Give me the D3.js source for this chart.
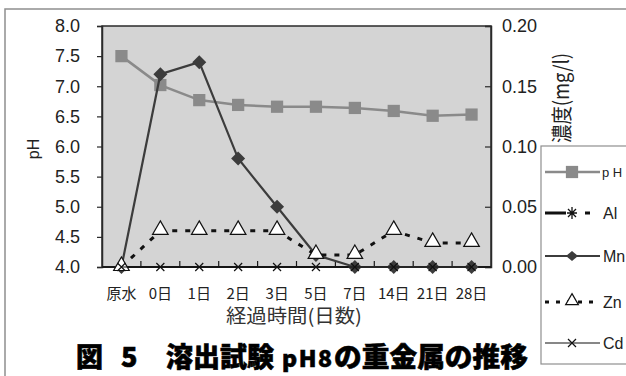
<!DOCTYPE html>
<html>
<head>
<meta charset="utf-8">
<script src="https://cdn.jsdelivr.net/npm/d3@7/dist/d3.min.js"></script>
<style>
  html, body { margin: 0; padding: 0; background: #fff; }
  svg { display: block; }
  .jp { font-family: "Noto Sans CJK JP", sans-serif; }
</style>
</head>
<body>
<svg id="chart" width="626" height="376"></svg>
<script>
// Elapsed-time categories
const categories = ["原水", "0日", "1日", "2日", "3日", "5日", "7日", "14日", "21日", "28日"];
// pH (left axis)
const phValues = [7.5, 7.02, 6.77, 6.69, 6.66, 6.66, 6.64, 6.59, 6.51, 6.53];
// Metal concentrations, mg/l (right axis)
const alValues = [null, null, null, null, null, null, null, null, null, null];
const mnValues = [0, 0.16, 0.17, 0.09, 0.05, 0.01, 0, 0, 0, 0];
const znValues = [0, 0.03, 0.03, 0.03, 0.03, 0.01, 0.01, 0.03, 0.02, 0.02];
const cdValues = [0, 0, 0, 0, 0, 0, 0, 0, 0, 0];
// Axis ticks
const phTicks = [4.0, 4.5, 5.0, 5.5, 6.0, 6.5, 7.0, 7.5, 8.0];
const concTicks = [0, 0.05, 0.10, 0.15, 0.20];
const legendLabels = ["p H", "Al", "Mn", "Zn", "Cd"];

const svg = d3.select("#chart");
const L = 102, R = 491, T = 26, B = 267;

const x = d3.scaleBand().domain(categories).range([L, R]);
const yL = d3.scaleLinear().domain([4, 8]).range([B, T]);
const yR = d3.scaleLinear().domain([0, 0.2]).range([B, T]);
const cx = c => x(c) + x.bandwidth() / 2;

// outer frame
svg.append("path").attr("d", "M5,376 L5,9 L626,9")
  .attr("fill", "none").attr("stroke", "#8f8f8f").attr("stroke-width", 1.5);

// plot background
svg.append("rect").attr("x", L).attr("y", T).attr("width", R - L).attr("height", B - T)
  .attr("fill", "#d4d4d4").attr("stroke", "#2a2a2a").attr("stroke-width", 1.5);

// left axis
const gL = svg.append("g").attr("transform", `translate(${L},0)`)
  .call(d3.axisLeft(yL).tickValues(phTicks).tickFormat(d3.format(".1f")).tickSize(5).tickPadding(17));
gL.select(".domain").attr("stroke", "#2a2a2a").attr("stroke-width", 1.5);
gL.selectAll(".tick line").attr("stroke", "#2a2a2a").attr("stroke-width", 1.2);
gL.selectAll(".tick text").attr("font-size", 18).attr("fill", "#222")
  .style("font-family", "'Liberation Sans', Arial, sans-serif");

// right axis
const gR = svg.append("g").attr("transform", `translate(${R},0)`)
  .call(d3.axisRight(yR).tickValues(concTicks).tickFormat(d3.format(".2f")).tickSize(-6).tickPadding(11));
gR.select(".domain").attr("stroke", "#2a2a2a").attr("stroke-width", 1.5);
gR.selectAll(".tick line").attr("stroke", "#2a2a2a").attr("stroke-width", 1.2);
gR.selectAll(".tick text").attr("font-size", 18).attr("fill", "#222")
  .style("font-family", "'Liberation Sans', Arial, sans-serif");

// bottom axis: category boundary ticks pointing into the plot
svg.append("line").attr("x1", L).attr("x2", R).attr("y1", B).attr("y2", B)
  .attr("stroke", "#1a1a1a").attr("stroke-width", 2);
svg.selectAll(".xtick").data(categories.slice(1)).enter().append("line")
  .attr("x1", d => x(d)).attr("x2", d => x(d)).attr("y1", B).attr("y2", B - 6)
  .attr("stroke", "#1a1a1a").attr("stroke-width", 1.2);
svg.selectAll(".xlab").data(categories).enter().append("text")
  .attr("class", "jp").attr("x", d => cx(d)).attr("y", 299)
  .attr("text-anchor", "middle").attr("font-size", 15).attr("fill", "#222")
  .text(d => d);

// axis titles
svg.append("text").attr("class", "jp").attr("x", 294).attr("y", 323)
  .attr("text-anchor", "middle").attr("font-size", 19).attr("fill", "#333")
  .attr("textLength", 136).attr("lengthAdjust", "spacingAndGlyphs")
  .text("経過時間(日数)");
svg.append("text").attr("transform", "translate(39,149) rotate(-90)")
  .attr("text-anchor", "middle").attr("font-size", 16).attr("fill", "#222")
  .style("font-family", "'Liberation Sans', Arial, sans-serif").text("pH");
svg.append("text").attr("class", "jp").attr("transform", "translate(569,98) rotate(-90)")
  .attr("text-anchor", "middle").attr("font-size", 21).attr("fill", "#222")
  .attr("textLength", 90).attr("lengthAdjust", "spacingAndGlyphs")
  .text("濃度(mg/l)");

// series
const lineOf = (vals, y) => d3.line()
  .defined(d => d[1] !== null)
  .x(d => cx(d[0])).y(d => y(d[1]))(categories.map((c, i) => [c, vals[i]]));
const pts = vals => categories.map((c, i) => ({ c, v: vals[i] })).filter(d => d.v !== null);

const sqr = d3.symbol().type(d3.symbolSquare).size(150)();
const dia = "M0,-7L7,0L0,7L-7,0Z";
const tri = d3.symbol().type(d3.symbolTriangle).size(105)();
const triSmall = d3.symbol().type(d3.symbolTriangle).size(70)();
const cross = "M-4,-4L4,4M-4,4L4,-4";
const star = "M-5,0L5,0M0,-6L0,6M-4,-4L4,4M-4,4L4,-4";

// pH
svg.append("path").attr("d", lineOf(phValues, yL)).attr("fill", "none")
  .attr("stroke", "#8a8a8a").attr("stroke-width", 2.5);
svg.selectAll(".ph").data(pts(phValues)).enter().append("path")
  .attr("d", sqr).attr("transform", d => `translate(${cx(d.c)},${yL(d.v)})`)
  .attr("fill", "#8a8a8a");

// Al
svg.append("path").attr("d", lineOf(alValues, yR)).attr("fill", "none")
  .attr("stroke", "#111").attr("stroke-width", 3).attr("stroke-dasharray", "20 14 5 8");
svg.selectAll(".al").data(pts(alValues)).enter().append("path")
  .attr("d", star).attr("transform", d => `translate(${cx(d.c)},${yR(d.v)})`)
  .attr("stroke", "#111").attr("stroke-width", 1.3);

// Mn
svg.append("path").attr("d", lineOf(mnValues, yR)).attr("fill", "none")
  .attr("stroke", "#3c3c3c").attr("stroke-width", 2.2);
svg.selectAll(".mn").data(pts(mnValues)).enter().append("path")
  .attr("d", dia).attr("transform", d => `translate(${cx(d.c)},${yR(d.v)})`)
  .attr("fill", "#3c3c3c");

// Zn
svg.append("path").attr("d", lineOf(znValues, yR)).attr("fill", "none")
  .attr("stroke", "#111").attr("stroke-width", 3).attr("stroke-dasharray", "5 8");
svg.selectAll(".zn").data(pts(znValues)).enter().append("path")
  .attr("d", tri).attr("transform", d => `translate(${cx(d.c)},${yR(d.v) - 1})`)
  .attr("fill", "#fff").attr("stroke", "#111").attr("stroke-width", 1.2);

// Cd
svg.append("path").attr("d", lineOf(cdValues, yR)).attr("fill", "none")
  .attr("stroke", "#111").attr("stroke-width", 1.2);
svg.selectAll(".cd").data(pts(cdValues)).enter().append("path")
  .attr("d", cross).attr("transform", d => `translate(${cx(d.c)},${yR(d.v)})`)
  .attr("stroke", "#111").attr("stroke-width", 1.2);

// legend
const lg = svg.append("g");
lg.append("rect").attr("x", 541).attr("y", 146).attr("width", 100).attr("height", 218)
  .attr("fill", "#fff").attr("stroke", "#8f8f8f").attr("stroke-width", 1.2);
const rowY = [172, 213, 256, 302, 343];
const lx1 = 545, lx2 = 600, mx = 572;
// pH
lg.append("line").attr("x1", lx1).attr("x2", lx2).attr("y1", rowY[0]).attr("y2", rowY[0])
  .attr("stroke", "#8a8a8a").attr("stroke-width", 2.5);
lg.append("path").attr("d", sqr).attr("transform", `translate(${mx},${rowY[0]})`).attr("fill", "#8a8a8a");
// Al
lg.append("line").attr("x1", lx1).attr("x2", lx2).attr("y1", rowY[1]).attr("y2", rowY[1])
  .attr("stroke", "#111").attr("stroke-width", 3).attr("stroke-dasharray", "21 19 5 10");
lg.append("path").attr("d", star).attr("transform", `translate(${mx},${rowY[1]})`)
  .attr("stroke", "#111").attr("stroke-width", 1.3);
// Mn
lg.append("line").attr("x1", lx1).attr("x2", lx2).attr("y1", rowY[2]).attr("y2", rowY[2])
  .attr("stroke", "#3c3c3c").attr("stroke-width", 2.2);
lg.append("path").attr("d", "M0,-5L6,0L0,5L-6,0Z").attr("transform", `translate(${mx},${rowY[2]})`).attr("fill", "#3c3c3c");
// Zn
lg.append("line").attr("x1", lx1).attr("x2", lx2).attr("y1", rowY[3]).attr("y2", rowY[3])
  .attr("stroke", "#111").attr("stroke-width", 3).attr("stroke-dasharray", "4 7");
lg.append("path").attr("d", triSmall).attr("transform", `translate(${mx},${rowY[3] - 1})`)
  .attr("fill", "#fff").attr("stroke", "#111").attr("stroke-width", 1.2);
// Cd
lg.append("line").attr("x1", lx1).attr("x2", lx2).attr("y1", rowY[4]).attr("y2", rowY[4])
  .attr("stroke", "#111").attr("stroke-width", 1.2);
lg.append("path").attr("d", cross).attr("transform", `translate(${mx},${rowY[4]})`)
  .attr("stroke", "#111").attr("stroke-width", 1.2);
lg.selectAll(".lt").data(legendLabels).enter().append("text")
  .attr("x", (d, i) => i === 0 ? 602 : 603).attr("y", (d, i) => rowY[i] + (i === 0 ? 5 : 6))
  .attr("font-size", (d, i) => i === 0 ? 13 : 16).attr("fill", "#222")
  .style("font-family", "'Liberation Sans', Arial, sans-serif")
  .text(d => d);

// figure caption
const cap = svg.append("text").attr("class", "jp").attr("y", 367)
  .attr("font-size", 27).attr("font-weight", 900).attr("fill", "#000")
  .attr("stroke", "#000").attr("stroke-width", 0.6);
cap.append("tspan").attr("x", 76).text("図");
cap.append("tspan").attr("x", 121).text("5");
cap.append("tspan").attr("x", 166).attr("textLength", 108).attr("lengthAdjust", "spacingAndGlyphs").text("溶出試験");
cap.append("tspan").attr("x", 282).attr("font-size", 23).attr("letter-spacing", 1.5).text("pH8");
cap.append("tspan").attr("x", 334).attr("font-size", 27).attr("letter-spacing", 0).attr("textLength", 194).attr("lengthAdjust", "spacingAndGlyphs").text("の重金属の推移");
</script>
</body>
</html>
